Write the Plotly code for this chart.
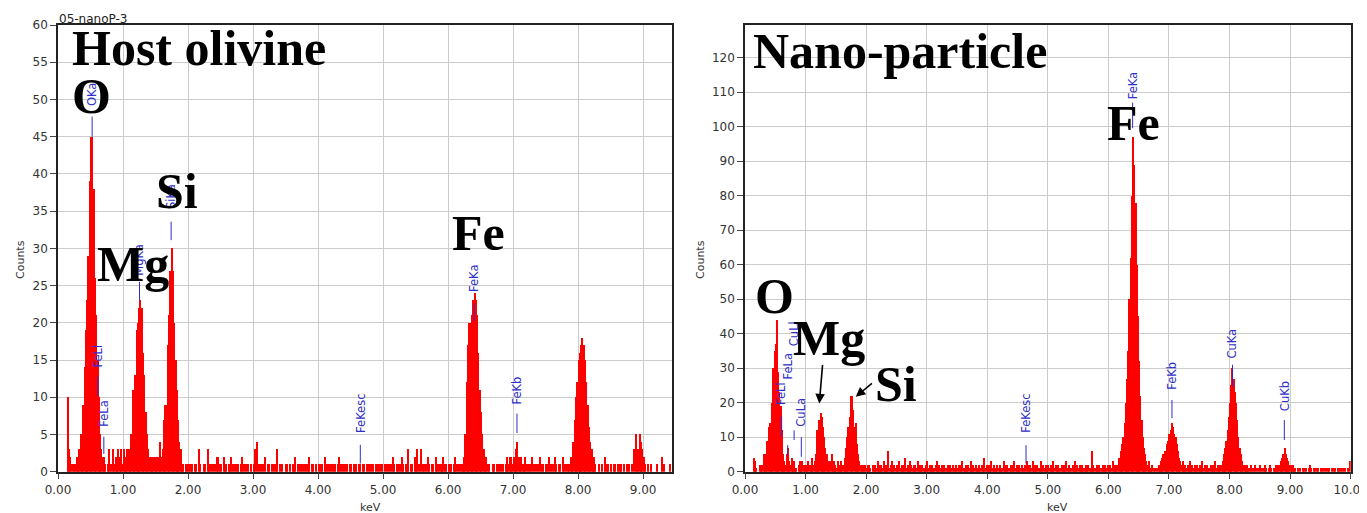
import plotly.graph_objects as go

# ---------------- DATA ----------------
BIN = 0.02  # keV per channel

# Host olivine spectrum, counts per 0.02 keV channel starting at 0.00 keV
host_counts = [
    0, 0, 0, 0, 0, 0, 0, 10, 3, 2, 1, 0, 1, 1, 2, 2, 3, 5, 5, 9, 14, 19, 23, 29, 39,
    45, 45, 38, 26, 21, 15, 10, 5, 3, 2, 2, 1, 0, 1, 3, 1, 0, 3, 1, 2, 1, 3, 2, 3, 1,
    3, 1, 2, 3, 3, 3, 5, 11, 10, 13, 19, 20, 22, 23, 22, 16, 13, 8, 5, 3, 2, 2, 1, 2, 2,
    1, 2, 2, 4, 2, 3, 7, 9, 9, 17, 21, 27, 30, 27, 20, 15, 11, 7, 4, 3, 1, 1, 0, 1, 1,
    1, 0, 1, 1, 0, 1, 1, 0, 3, 1, 0, 0, 1, 1, 0, 3, 1, 1, 0, 1, 1, 0, 2, 2, 1,
    1, 0, 2, 1, 1, 0, 1, 1, 2, 1, 0, 1, 1, 1, 0, 1, 2, 0, 1, 1, 0, 1, 0, 1, 0,
    1, 3, 0, 4, 1, 0, 1, 1, 0, 2, 0, 1, 1, 0, 1, 0, 1, 1, 3, 0, 1, 0, 1, 0, 0,
    1, 1, 0, 1, 0, 1, 1, 2, 0, 1, 0, 1, 1, 0, 1, 1, 0, 1, 2, 0, 1, 1, 0, 1, 0,
    1, 0, 1, 1, 0, 2, 1, 1, 0, 1, 1, 0, 1, 1, 0, 1, 2, 1, 0, 1, 1, 0, 1, 0, 1,
    1, 0, 1, 1, 1, 0, 1, 1, 0, 1, 1, 0, 1, 0, 1, 1, 0, 1, 0, 1, 0, 1, 1, 0, 1,
    0, 1, 0, 1, 1, 0, 1, 2, 1, 0, 1, 1, 0, 1, 2, 1, 0, 1, 1, 3, 0, 1, 1, 0, 2,
    1, 3, 1, 0, 3, 1, 1, 0, 1, 2, 1, 0, 1, 1, 0, 2, 1, 0, 1, 1, 1, 2, 1, 1, 0,
    1, 1, 1, 0, 1, 2, 1, 1, 0, 1, 1, 1, 2, 5, 12, 17, 20, 20, 21, 23, 24, 23, 21, 16, 11,
    8, 5, 3, 2, 2, 1, 1, 0, 0, 1, 1, 0, 1, 0, 1, 1, 0, 1, 0, 1, 2, 1, 2, 2, 1,
    2, 1, 3, 4, 2, 1, 2, 1, 1, 2, 1, 0, 1, 1, 2, 0, 1, 1, 0, 1, 2, 0, 1, 1, 0,
    1, 1, 2, 0, 1, 1, 0, 2, 1, 0, 1, 1, 0, 2, 1, 1, 0, 1, 1, 2, 2, 4, 7, 10, 12,
    15, 16, 17, 18, 17, 15, 12, 9, 6, 4, 3, 2, 2, 1, 0, 0, 1, 0, 1, 0, 2, 0, 1, 1, 0,
    1, 0, 1, 1, 0, 1, 0, 1, 1, 0, 1, 0, 1, 0, 1, 0, 1, 0, 3, 5, 3, 3, 5, 4, 3,
    2, 1, 0, 1, 0, 0, 1, 0, 0, 0, 1, 0, 0, 0, 2, 0, 1, 0, 0, 0, 1, 0,
]

# Nano-particle spectrum, counts per 0.02 keV channel starting at 0.00 keV
nano_counts = [
    0, 0, 0, 0, 0, 0, 0, 4, 3, 1, 0, 0, 2, 1, 2, 5, 3, 5, 9, 13, 14, 13, 20, 30, 35,
    37, 44, 29, 23, 19, 12, 5, 3, 2, 5, 7, 3, 2, 4, 1, 3, 1, 1, 0, 2, 3, 1, 3, 2, 1,
    2, 1, 3, 2, 1, 4, 2, 3, 5, 12, 10, 15, 17, 16, 13, 10, 7, 5, 3, 2, 3, 5, 2, 3, 2,
    1, 3, 2, 1, 3, 2, 2, 4, 7, 10, 13, 16, 22, 22, 18, 13, 14, 8, 5, 3, 2, 1, 2, 1, 2,
    1, 2, 2, 1, 0, 2, 1, 2, 1, 3, 2, 1, 2, 1, 3, 1, 2, 2, 6, 1, 2, 3, 1, 2, 1,
    2, 1, 3, 1, 2, 1, 2, 4, 1, 2, 1, 3, 2, 1, 2, 2, 1, 3, 1, 2, 1, 2, 1, 1, 2,
    3, 1, 2, 1, 2, 1, 1, 2, 3, 1, 2, 1, 2, 1, 2, 1, 1, 2, 1, 2, 1, 2, 1, 1, 2,
    1, 2, 1, 2, 3, 1, 1, 2, 1, 2, 1, 3, 1, 2, 1, 2, 1, 1, 2, 1, 2, 1, 4, 1, 2,
    1, 2, 1, 3, 1, 2, 1, 1, 2, 1, 2, 1, 1, 3, 2, 1, 2, 1, 1, 2, 1, 2, 3, 1, 2,
    1, 2, 1, 2, 1, 1, 2, 3, 1, 2, 2, 1, 3, 1, 2, 1, 2, 1, 1, 3, 1, 2, 1, 2, 1,
    2, 1, 2, 1, 3, 1, 2, 1, 2, 1, 1, 2, 1, 2, 1, 3, 1, 2, 1, 1, 2, 1, 3, 1, 2,
    1, 2, 1, 2, 1, 1, 2, 1, 2, 1, 1, 6, 2, 1, 1, 2, 1, 2, 1, 1, 2, 1, 2, 1, 2,
    1, 2, 1, 3, 1, 2, 1, 2, 4, 3, 6, 8, 10, 14, 20, 27, 35, 50, 62, 80, 97, 89, 78, 60, 45,
    32, 22, 15, 10, 7, 5, 3, 2, 3, 1, 1, 2, 1, 1, 0, 1, 2, 2, 3, 4, 5, 6, 6, 8, 9,
    11, 12, 14, 13, 11, 10, 8, 6, 4, 3, 2, 3, 1, 2, 1, 2, 1, 3, 1, 2, 1, 2, 1, 2, 1,
    2, 1, 3, 1, 2, 1, 2, 1, 1, 2, 1, 2, 1, 3, 1, 2, 1, 2, 2, 3, 5, 7, 9, 12, 16,
    20, 25, 30, 27, 23, 20, 15, 10, 7, 5, 3, 2, 2, 1, 2, 1, 1, 2, 1, 0, 1, 2, 1, 0, 1,
    2, 1, 0, 1, 2, 1, 0, 1, 2, 1, 0, 1, 1, 2, 1, 2, 2, 3, 4, 5, 7, 5, 4, 3, 2,
    2, 1, 2, 1, 1, 0, 1, 0, 1, 0, 1, 1, 0, 1, 0, 1, 2, 1, 0, 1, 1, 0, 1, 1, 0,
    1, 1, 0, 1, 1, 0, 1, 1, 0, 1, 0, 1, 1, 0, 1, 1, 0, 1, 1, 0, 1, 0, 1, 0, 3,
]

# Identified X-ray lines (name, energy keV)
host_lines = ["OKa", "FeLl", "FeLa", "MgKa", "SiKa", "FeKesc", "FeKa", "FeKb"]
host_line_kev = [0.525, 0.615, 0.705, 1.254, 1.740, 4.650, 6.400, 7.060]
nano_lines = ["FeLl", "FeLa", "CuLl", "CuLa", "FeKesc", "FeKa", "FeKb", "CuKa", "CuKb"]
nano_line_kev = [0.605, 0.705, 0.811, 0.930, 4.640, 6.400, 7.050, 8.050, 8.905]

host_yticks = list(range(0, 61, 5))
nano_yticks = list(range(0, 121, 10))
host_xticks = list(range(0, 10))
nano_xticks = list(range(0, 11))

# ---------------- LAYOUT CONFIG ----------------
# marker segment (y0, y1) and label centre heights, in counts
host_marker = [(45.0, 47.7, 50.6), (10.2, 12.8, 15.6), (2.4, 4.7, 7.9), (23.0, 25.5, 28.4),
               (31.1, 33.6, 36.9), (1.1, 3.6, 7.8), (20.2, 22.6, 25.9), (5.2, 7.8, 10.9)]
nano_marker = [(10.1, 16.0, 22.7), (4.8, 7.7, 30.7), (9.2, 12.0, 39.9), (4.3, 10.0, 17.2),
               (2.4, 7.7, 16.8), (99.6, 107.0, 111.9), (15.5, 20.8, 27.8), (24.6, 31.0, 37.0),
               (9.2, 15.0, 22.0)]

# the page body has an 8px margin, so the figure starts 8px right/down on screen
OFF = 8
W, H = 1367 - OFF, 513 - OFF
BLUE = "#2E2EC8"
TICKFONT = dict(family="DejaVu Sans", size=12, color="#333333")


def px(x):
    return (x - OFF) / W


def py(y):
    return 1 - (y - OFF) / H


fig = go.Figure()
fig.add_trace(go.Bar(x=[i * BIN + BIN / 2 for i in range(len(host_counts))], y=host_counts,
                     width=BIN, marker=dict(color="#FF0000", line=dict(width=0)),
                     xaxis="x", yaxis="y", hoverinfo="x+y"))
fig.add_trace(go.Bar(x=[i * BIN + BIN / 2 for i in range(len(nano_counts))], y=nano_counts,
                     width=BIN, marker=dict(color="#FF0000", line=dict(width=0)),
                     xaxis="x2", yaxis="y2", hoverinfo="x+y"))

shapes = []
annotations = []


def add_lines(names, kevs, marks, xr, yr):
    for n, k, (y0, y1, yl) in zip(names, kevs, marks):
        shapes.append(dict(type="line", xref=xr, yref=yr, x0=k, x1=k, y0=y0, y1=y1,
                           line=dict(color=BLUE, width=1)))
        annotations.append(dict(xref=xr, yref=yr, x=k, y=yl, text=n, showarrow=False,
                                textangle=-90, xanchor="center", yanchor="middle",
                                font=dict(family="DejaVu Sans", size=11.5, color=BLUE)))


add_lines(host_lines, host_line_kev, host_marker, "x", "y")
add_lines(nano_lines, nano_line_kev, nano_marker, "x2", "y2")

BIG = dict(family="Liberation Serif", size=50, color="black")
big_labels = [("Host olivine", 198.5, 48.5), ("O", 91.5, 96.5), ("Si", 177, 190.5),
              ("Mg", 132.5, 264), ("Fe", 478, 233),
              ("Nano-particle", 899.5, 50.7), ("Fe", 1133.5, 123), ("O", 774.7, 296.3),
              ("Mg", 828.8, 337.5), ("Si", 895.8, 384)]
for t, x, y in big_labels:
    annotations.append(dict(xref="paper", yref="paper", x=px(x), y=py(y), text="<b>%s</b>" % t,
                            showarrow=False, xanchor="center", yanchor="middle", font=BIG))

# arrows for Mg and Si on the nano-particle spectrum
for tip, tail in [((1.227, 19.8), (1.283, 31.4)), ((1.828, 21.7), (2.12, 26.0))]:
    annotations.append(dict(xref="x2", yref="y2", axref="x2", ayref="y2", x=tip[0], y=tip[1],
                            ax=tail[0], ay=tail[1], text="", showarrow=True, arrowhead=2,
                            arrowsize=1.2, arrowwidth=1.6, arrowcolor="black"))

SMALL = dict(family="DejaVu Sans", size=11, color="#333333")
for t, x, y, ang in [("Counts", 20, 260, -90), ("Counts", 700, 260, -90),
                     ("keV", 370, 507, 0), ("keV", 1057, 507, 0)]:
    annotations.append(dict(xref="paper", yref="paper", x=px(x), y=py(y), text=t, showarrow=False,
                            textangle=ang, xanchor="center", yanchor="middle", font=SMALL))
annotations.append(dict(xref="paper", yref="paper", x=px(57), y=py(18.5), text="05-nanoP-3",
                        showarrow=False, xanchor="left", yanchor="middle",
                        font=dict(family="DejaVu Sans", size=12, color="#222222")))

xcommon = dict(showgrid=True, gridcolor="#CCCCCC", gridwidth=1, zeroline=False,
               ticks="outside", ticklen=6, tickcolor="#444444", showline=True,
               linecolor="#222222", linewidth=1.5, mirror=True, tickfont=TICKFONT,
               automargin=False, ticklabeloverflow="allow")

fig.update_layout(
    width=W, height=H, margin=dict(l=0, r=0, t=0, b=0, pad=0, autoexpand=False),
    paper_bgcolor="white", plot_bgcolor="white", showlegend=False,
    bargap=0, barmode="overlay",
    xaxis=dict(domain=[px(58), px(671.7)], range=[0, 9.44], anchor="y",
               tickvals=host_xticks, ticktext=["%.2f" % v for v in host_xticks], **xcommon),
    yaxis=dict(domain=[py(471.7), py(25)], range=[0, 60], anchor="x",
               tickvals=host_yticks, **xcommon),
    xaxis2=dict(domain=[px(745), px(1350.7)], range=[0, 10.001], anchor="y2",
                tickvals=nano_xticks, ticktext=["%.2f" % v for v in nano_xticks], **xcommon),
    yaxis2=dict(domain=[py(471.7), py(25)], range=[0, 129.5], anchor="x2",
                tickvals=nano_yticks, **xcommon),
    shapes=shapes, annotations=annotations,
)

fig.write_html("out.html")
